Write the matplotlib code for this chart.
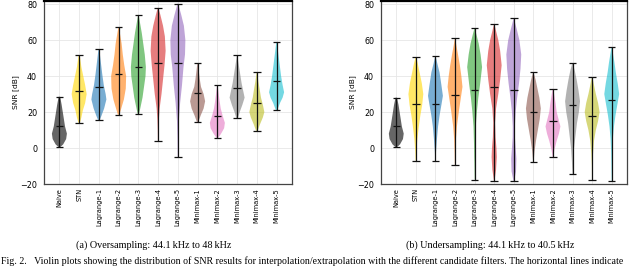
import numpy as np
import matplotlib
matplotlib.use("Agg")
import matplotlib.pyplot as plt

filtros = ["Naive", "STN", "Lagrange-1", "Lagrange-2", "Lagrange-3", "Lagrange-4",
           "Lagrange-5", "Minimax-1", "Minimax-2", "Minimax-3", "Minimax-4", "Minimax-5"]
colores = ["black", "gold", "tab:blue", "tab:orange", "tab:green", "tab:red",
           "tab:purple", "tab:brown", "tab:pink", "tab:gray", "tab:olive", "tab:cyan"]

# (a) oversampling 44.1 -> 48 kHz
over_min = [0.5, 14, 15.5, 18.5, 19, 3.8, -5, 14.5, 5.5, 16.5, 9.5, 21]
over_med = [12, 31.5, 33.8, 41, 45, 47.3, 47.2, 30.5, 18, 33.5, 25, 37.5]
over_max = [28.5, 51.5, 54.8, 67, 74, 78, 80.3, 47, 35, 51.5, 42, 59]
# perfil de densidad: niveles SNR y ancho relativo
over_niveles = [
    [0.5, 2, 5, 8, 12, 16, 20, 24, 28.5],
    [14, 17, 21, 25, 30, 35, 40, 45, 51.5],
    [15.5, 18, 22, 27, 30, 35, 41, 48, 54.8],
    [18.5, 22, 27, 33, 40, 46, 52, 58, 63, 67],
    [19, 23, 28, 34, 40, 45, 52, 58, 64, 70, 74],
    [3.8, 10, 16, 22, 30, 38, 46, 54, 62, 68, 74, 78],
    [-5, 5, 15, 25, 35, 45, 52, 60, 68, 74, 80.3],
    [14.5, 18, 22, 26, 30, 34, 38, 42, 47],
    [5.5, 8, 11, 14, 18, 22, 26, 30, 35],
    [16.5, 20, 24, 28, 32, 36, 40, 44, 48, 51.5],
    [9.5, 13, 17, 20, 24, 28, 32, 37, 42],
    [21, 25, 28, 31, 35, 40, 45, 50, 55, 59],
]
over_anchos = [
    [0.1, 0.5, 0.9, 1.0, 0.75, 0.6, 0.45, 0.3, 0.1],
    [0.1, 0.3, 0.5, 0.8, 1.0, 0.8, 0.55, 0.3, 0.08],
    [0.1, 0.35, 0.7, 1.0, 0.9, 0.65, 0.45, 0.25, 0.06],
    [0.1, 0.35, 0.7, 0.95, 1.0, 0.75, 0.55, 0.4, 0.2, 0.04],
    [0.1, 0.3, 0.55, 0.75, 0.95, 1.0, 0.85, 0.65, 0.45, 0.2, 0.04],
    [0.03, 0.05, 0.1, 0.2, 0.45, 0.65, 0.85, 1.0, 0.9, 0.65, 0.3, 0.04],
    [0.02, 0.05, 0.12, 0.3, 0.55, 0.75, 0.95, 1.0, 0.8, 0.45, 0.04],
    [0.1, 0.4, 0.8, 1.0, 0.8, 0.45, 0.3, 0.18, 0.04],
    [0.1, 0.5, 0.9, 1.0, 0.7, 0.45, 0.3, 0.18, 0.04],
    [0.1, 0.35, 0.7, 1.0, 0.8, 0.6, 0.45, 0.3, 0.15, 0.04],
    [0.1, 0.4, 0.8, 1.0, 0.8, 0.55, 0.4, 0.2, 0.04],
    [0.1, 0.45, 0.8, 1.0, 0.8, 0.6, 0.45, 0.3, 0.15, 0.04],
]

# (b) undersampling 44.1 -> 40.5 kHz
under_min = [0.5, -7, -7, -9.5, -17.5, -18.5, -18.5, -7.5, -5, -14.5, -18, -18.5]
under_med = [12, 24.5, 24.5, 29.5, 32, 34, 32, 20, 15, 24, 18, 26.5]
under_max = [28, 50.5, 51, 61, 66.5, 69, 72, 42, 33, 47, 39.5, 56]
under_niveles = [
    [0.5, 2, 5, 8, 12, 16, 20, 24, 28],
    [-7, -2, 5, 12, 18, 24, 30, 36, 42, 47, 50.5],
    [-7, -2, 5, 12, 18, 24, 29, 35, 42, 47, 51],
    [-9.5, -3, 5, 12, 20, 27, 34, 40, 46, 52, 57, 61],
    [-17.5, -8, 2, 12, 20, 28, 36, 45, 52, 58, 63, 66.5],
    [-18.5, -12, -5, 0, 6, 14, 22, 30, 38, 46, 54, 60, 65, 69],
    [-18.5, -13, -6, 0, 6, 12, 20, 28, 36, 44, 52, 60, 66, 72],
    [-7.5, -2, 4, 10, 16, 22, 28, 34, 38, 42],
    [-5, -1, 4, 8, 12, 16, 20, 25, 29, 33],
    [-14.5, -8, 0, 7, 14, 20, 26, 32, 38, 43, 47],
    [-18, -10, -3, 4, 10, 15, 20, 25, 30, 35, 39.5],
    [-18.5, -10, -2, 5, 12, 18, 24, 30, 36, 42, 48, 53, 56],
]
under_anchos = [
    [0.1, 0.5, 0.9, 1.0, 0.75, 0.6, 0.45, 0.3, 0.1],
    [0.03, 0.08, 0.2, 0.4, 0.6, 0.85, 1.0, 0.8, 0.5, 0.25, 0.04],
    [0.03, 0.08, 0.2, 0.35, 0.55, 0.8, 1.0, 0.8, 0.55, 0.25, 0.04],
    [0.02, 0.05, 0.12, 0.25, 0.5, 0.75, 1.0, 0.85, 0.65, 0.4, 0.18, 0.03],
    [0.02, 0.04, 0.08, 0.15, 0.3, 0.5, 0.75, 1.0, 0.8, 0.55, 0.25, 0.03],
    [0.03, 0.25, 0.35, 0.3, 0.18, 0.12, 0.25, 0.55, 0.8, 1.0, 0.8, 0.55, 0.25, 0.03],
    [0.04, 0.3, 0.35, 0.25, 0.15, 0.14, 0.25, 0.45, 0.7, 0.9, 1.0, 0.75, 0.4, 0.03],
    [0.04, 0.15, 0.35, 0.6, 0.85, 1.0, 0.8, 0.5, 0.3, 0.04],
    [0.04, 0.2, 0.5, 0.8, 1.0, 0.75, 0.5, 0.35, 0.2, 0.04],
    [0.03, 0.08, 0.2, 0.4, 0.6, 0.85, 1.0, 0.8, 0.55, 0.3, 0.04],
    [0.02, 0.04, 0.12, 0.25, 0.5, 0.8, 1.0, 0.8, 0.5, 0.25, 0.04],
    [0.02, 0.04, 0.08, 0.15, 0.3, 0.5, 0.75, 1.0, 0.8, 0.55, 0.35, 0.15, 0.03],
]

subtitulos = ["(a) Oversampling: 44.1\u2009kHz to 48\u2009kHz",
              "(b) Undersampling: 44.1\u2009kHz to 40.5\u2009kHz"]
pie = ("Fig. 2.   Violin plots showing the distribution of SNR results for "
       "interpolation/extrapolation with the different candidate filters. "
       "The horizontal lines indicate")


def dibujar_violines(ax, minimos, medianas, maximos, niveles, anchos):
    stats = []
    for mn, md, mx, lv, an in zip(minimos, medianas, maximos, niveles, anchos):
        stats.append(dict(coords=np.array(lv), vals=np.array(an),
                          mean=md, median=md, min=mn, max=mx))
    pos = np.arange(1, len(stats) + 1)
    partes = ax.violin(stats, positions=pos, widths=0.76,
                       showextrema=True, showmedians=True)
    for cuerpo, c in zip(partes["bodies"], colores):
        cuerpo.set_facecolor(c)
        cuerpo.set_edgecolor("none")
        cuerpo.set_alpha(0.6)
    for clave in ("cbars", "cmins", "cmaxes", "cmedians"):
        partes[clave].set_color("#111111")
        partes[clave].set_linewidth(0.9)
    ax.set_xticks(pos)
    ax.set_xticklabels(filtros, rotation=90, fontsize=4.8)
    ax.set_xlim(0.22, 12.78)
    ax.set_ylim(-20, 82)
    ax.set_yticks([-20, 0, 20, 40, 60, 80])
    ax.tick_params(axis="y", labelsize=5.8, length=0, pad=5)
    ax.tick_params(axis="x", length=0, pad=3)
    ax.set_ylabel("SNR [dB]", fontsize=5.4, labelpad=1)
    ax.grid(True, color="#e6e6e6", linewidth=0.6)
    ax.set_axisbelow(True)
    for s in ax.spines.values():
        s.set_color("#444444")
        s.set_linewidth(0.9)
    ax.spines["top"].set_linewidth(1.6)
    ax.spines["top"].set_color("black")


fig = plt.figure(figsize=(6.4, 2.67), dpi=100)
ax1 = fig.add_axes([44 / 640, 1 - 184 / 267, 248 / 640, 183.5 / 267])
ax2 = fig.add_axes([381 / 640, 1 - 184 / 267, 246 / 640, 183.5 / 267])

dibujar_violines(ax1, over_min, over_med, over_max, over_niveles, over_anchos)
dibujar_violines(ax2, under_min, under_med, under_max, under_niveles, under_anchos)

fig.text(154 / 640, 1 - 245 / 267, subtitulos[0], ha="center", va="center",
         fontsize=7.3, family="Liberation Serif")
fig.text(490 / 640, 1 - 245 / 267, subtitulos[1], ha="center", va="center",
         fontsize=7.3, family="Liberation Serif")
fig.text(0.002, 1 - 256 / 267, pie, ha="left", va="top",
         fontsize=7.1, family="Liberation Serif")

fig.savefig("out.png", dpi=100)
